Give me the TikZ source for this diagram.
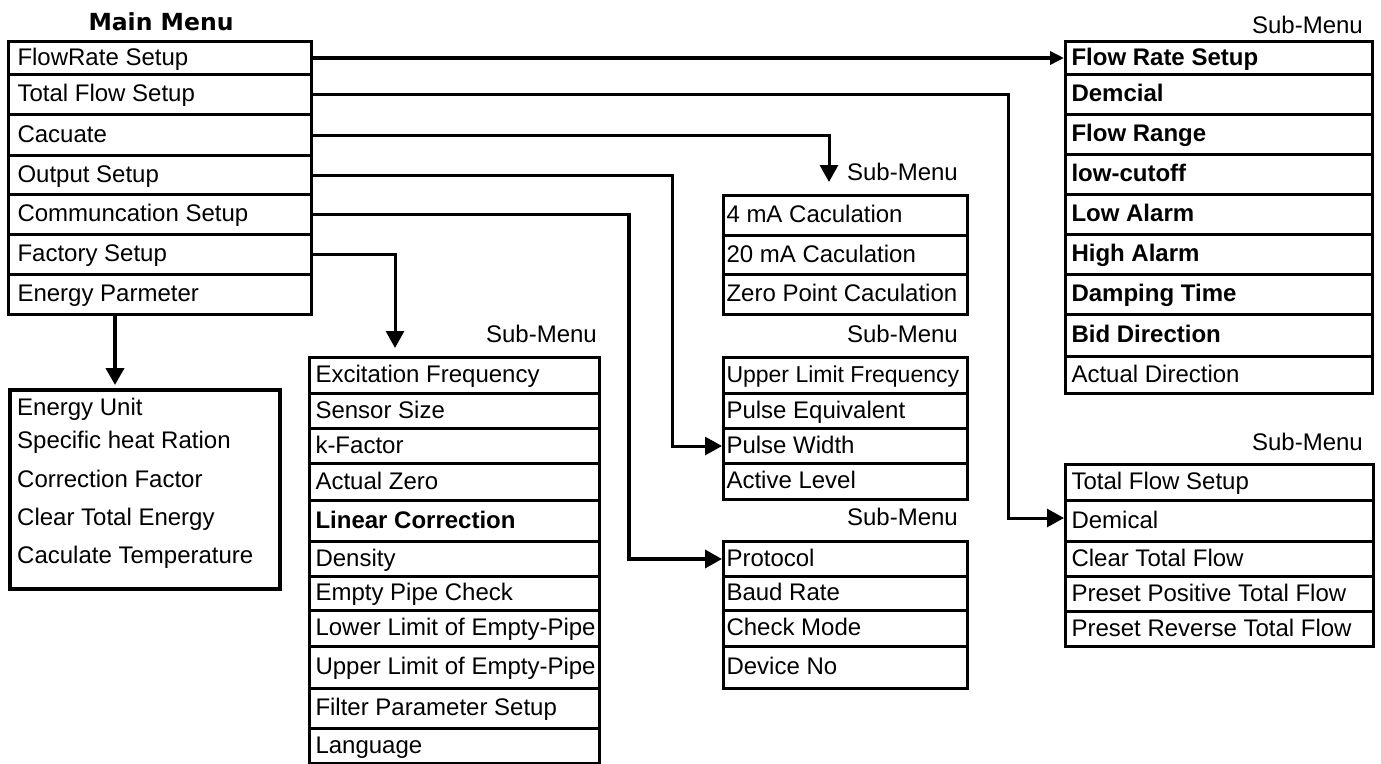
\documentclass[tikz,border=0pt]{standalone}
\usepackage{fontspec}
\setmainfont{Liberation Sans}
\newfontfamily\titlefont{DejaVu Sans}
\usetikzlibrary{arrows.meta}
\tikzset{
 rowbox/.style={draw=black, line width=3pt, inner ysep=0pt, text height=18pt, text depth=4pt, font=\fontsize{24}{28}\selectfont, anchor=north west},
 conn/.style={line width=3pt, -{Triangle[length=17pt,width=18pt]}},
 sublabel/.style={font=\fontsize{24}{28}\selectfont, anchor=base east, inner sep=0pt},
 etext/.style={font=\fontsize{24}{28}\selectfont, anchor=base west, inner sep=0pt},
}
\newcommand{\mrow}[7]{%
 \pgfmathsetmacro{\mrtw}{#4-#2-2*#6}%
 \pgfmathsetmacro{\mrrh}{#5-#3}%
 \pgfmathsetmacro{\mrw}{#4-#2}%
 \node[rowbox, inner xsep=#6pt, minimum width=\mrw pt, minimum height=\mrrh pt] (#1) at (#2,#3) {\makebox[\mrtw pt][l]{#7}};}
\begin{document}
\begin{tikzpicture}[x=1pt,y=-1pt]
\useasboundingbox (0,0) rectangle (1381,763);
% title
\node[font=\titlefont\bfseries\fontsize{23.5}{28}\selectfont, anchor=base, inner sep=0pt] (title) at (161,30) {Main Menu};
% main menu
\mrow{m1}{7}{40}{310}{73}{9}{FlowRate Setup}
\mrow{m2}{7}{73}{310}{113}{9}{Total Flow Setup}
\mrow{m3}{7}{113}{310}{154}{9}{Cacuate}
\mrow{m4}{7}{154}{310}{193}{9}{Output Setup}
\mrow{m5}{7}{193}{310}{233}{9}{Communcation Setup}
\mrow{m6}{7}{233}{310}{273}{9}{Factory Setup}
\mrow{m7}{7}{273}{310}{313}{9}{Energy Parmeter}
% energy box
\node[draw, line width=4pt, minimum width=270pt, minimum height=199pt, anchor=north west, inner sep=0pt] (en) at (8,388) {};
\node[etext] (e1) at (17,415) {Energy Unit};
\node[etext] (e2) at (17,448) {Specific heat Ration};
\node[etext] (e3) at (17,487) {Correction Factor};
\node[etext] (e4) at (17,525) {Clear Total Energy};
\node[etext] (e5) at (17,563) {Caculate Temperature};
% flow rate sub-menu
\node[sublabel] (s1) at (1363,33) {Sub-Menu};
\mrow{fr1}{1064}{40}{1371}{73}{6}{\textbf{Flow Rate Setup}}
\mrow{fr2}{1064}{73}{1371}{113}{6}{\textbf{Demcial}}
\mrow{fr3}{1064}{113}{1371}{153}{6}{\textbf{Flow Range}}
\mrow{fr4}{1064}{153}{1371}{193}{6}{\textbf{low-cutoff}}
\mrow{fr5}{1064}{193}{1371}{233}{6}{\textbf{Low Alarm}}
\mrow{fr6}{1064}{233}{1371}{273}{6}{\textbf{High Alarm}}
\mrow{fr7}{1064}{273}{1371}{313}{6}{\textbf{Damping Time}}
\mrow{fr8}{1064}{313}{1371}{355}{6}{\textbf{Bid Direction}}
\mrow{fr9}{1064}{355}{1371}{392}{6}{Actual Direction}
% total flow sub-menu
\node[sublabel] (s2) at (1363,450) {Sub-Menu};
\mrow{tf1}{1064}{463}{1372}{499}{6}{Total Flow Setup}
\mrow{tf2}{1064}{499}{1372}{540}{6}{Demical}
\mrow{tf3}{1064}{540}{1372}{575}{6}{Clear Total Flow}
\mrow{tf4}{1064}{575}{1372}{610}{6}{Preset Positive Total Flow}
\mrow{tf5}{1064}{610}{1372}{645}{6}{Preset Reverse Total Flow}
% calculation sub-menu
\node[sublabel] (s3) at (958,180) {Sub-Menu};
\mrow{c1}{722}{194}{966}{234}{3}{4 mA Caculation}
\mrow{c2}{722}{234}{966}{273}{3}{20 mA Caculation}
\mrow{c3}{722}{273}{966}{313}{3}{Zero Point Caculation}
% pulse sub-menu
\node[sublabel] (s4) at (958,342) {Sub-Menu};
\mrow{p1}{722}{356}{966}{392}{3}{\fontsize{23}{28}\selectfont Upper Limit Frequency}
\mrow{p2}{722}{392}{966}{427}{3}{Pulse Equivalent}
\mrow{p3}{722}{427}{966}{462}{3}{Pulse Width}
\mrow{p4}{722}{462}{966}{498}{3}{Active Level}
% communication sub-menu
\node[sublabel] (s5) at (958,525) {Sub-Menu};
\mrow{k1}{722}{540}{966}{575}{3}{Protocol}
\mrow{k2}{722}{575}{966}{609}{3}{Baud Rate}
\mrow{k3}{722}{609}{966}{645}{3}{Check Mode}
\mrow{k4}{722}{645}{966}{687}{3}{Device No}
% factory sub-menu
\node[sublabel] (s6) at (597,342) {Sub-Menu};
\mrow{f1}{308}{356}{598}{392}{6}{Excitation Frequency}
\mrow{f2}{308}{392}{598}{427}{6}{Sensor Size}
\mrow{f3}{308}{427}{598}{462}{6}{k-Factor}
\mrow{f4}{308}{462}{598}{499}{6}{Actual Zero}
\mrow{f5}{308}{499}{598}{540}{6}{\textbf{Linear Correction}}
\mrow{f6}{308}{540}{598}{575}{6}{Density}
\mrow{f7}{308}{575}{598}{609}{6}{Empty Pipe Check}
\mrow{f8}{308}{609}{598}{645}{6}{Lower Limit of Empty-Pipe}
\mrow{f9}{308}{645}{598}{687}{6}{Upper Limit of Empty-Pipe}
\mrow{f10}{308}{687}{598}{727}{6}{Filter Parameter Setup}
\mrow{f11}{308}{727}{598}{762}{6}{Language}
% connectors
\coordinate (ctip) at (829,182);
\coordinate (ftip) at (395,348);
\draw[conn, line width=4pt, -{Triangle[length=14pt,width=13pt]}] (m1.east) -- (fr1.west);
\draw[conn] (m2.east) -| ([xshift=-56pt,yshift=3pt]tf2.west) -- ([yshift=3pt]tf2.west);
\draw[conn] (m3.east) -| (ctip);
\draw[conn] (m4.east) -| ([xshift=-50pt]p3.west) -- (p3.west);
\draw[conn, line width=3.5pt] (m5.east) -| ([xshift=-93pt]k1.west) -- (k1.west);
\draw[conn] (m6.east) -| (ftip);
\draw[conn, line width=4pt, shorten >=3pt] ([xshift=-45pt]m7.south) -- ([xshift=-30pt]en.north);
\end{tikzpicture}
\end{document}
